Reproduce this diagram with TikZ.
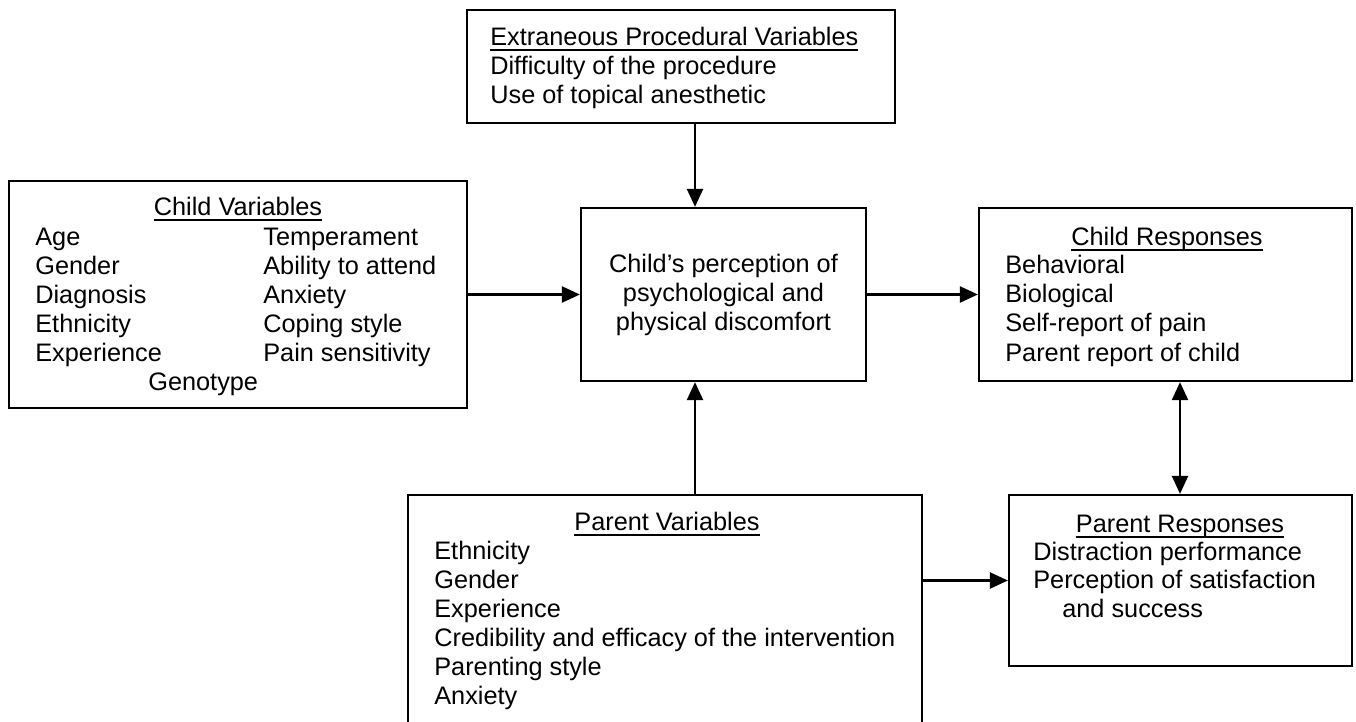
\documentclass[tikz,border=0pt]{standalone}
\usepackage{fontspec}
\setmainfont{Liberation Sans}
\usetikzlibrary{arrows.meta}
\newcommand{\hdr}[1]{\setbox0\hbox{#1}\rlap{\rule[-0.11cm]{\wd0}{0.8pt}}\box0}

\begin{document}
\begin{tikzpicture}[x=0.02cm, y=-0.02cm,
  font=\fontsize{14.4}{16.5}\selectfont,
  box/.style={draw, line width=1.3pt, inner sep=0pt},
  item/.style={anchor=base west, inner sep=0pt},
  hd/.style={anchor=base, inner sep=0pt},
  arr/.style={-{Triangle[length=0.36cm, width=0.32cm]}, line width=1.3pt},
  dbl/.style={{Triangle[length=0.36cm, width=0.32cm]}-{Triangle[length=0.36cm, width=0.32cm]}, line width=1.3pt}]
\useasboundingbox (0,0) rectangle (1356,721);
\clip (0,0) rectangle (1356,721);

% boxes
\node[box, minimum width=8.56cm, minimum height=2.26cm] (ext) at (681,66.5) {};
\node[box, minimum width=9.16cm, minimum height=4.54cm] (cvar) at (238,294.5) {};
\node[box, minimum width=5.70cm, minimum height=3.46cm, align=center] (mid) at (723.5,294.5)
  {Child’s perception of\\psychological and\\physical discomfort};
\node[box, minimum width=7.46cm, minimum height=3.46cm] (cres) at (1165.5,294.5) {};
\node[box, minimum width=10.28cm, minimum height=5.10cm] (pvar) at (665,622.5) {};
\node[box, minimum width=6.86cm, minimum height=3.42cm] (pres) at (1180.5,580.5) {};

% extraneous procedural variables
\node[item] (ext-h) at (490,45) {\hdr{Extraneous Procedural Variables}};
\node[item] (ext-1) at (490,74) {Difficulty of the procedure};
\node[item] (ext-2) at (490,103) {Use of topical anesthetic};

% child variables
\node[hd] (cv-h) at (238,215) {\hdr{Child Variables}};
\foreach \t [count=\i] in {Age,Gender,Diagnosis,Ethnicity,Experience}
  \node[item] (cvl\i) at (35,216+29*\i) {\t};
\foreach \t [count=\i] in {Temperament,Ability to attend,Anxiety,Coping style,Pain sensitivity}
  \node[item] (cvr\i) at (263,216+29*\i) {\t};
\node[item] (cv-g) at (148,390) {Genotype};

% child responses
\node[hd] (cr-h) at (1167,245) {\hdr{Child Responses}};
\foreach \t [count=\i] in {Behavioral,Biological,Self-report of pain,Parent report of child}
  \node[item] (cr\i) at (1005,244+29.3*\i) {\t};

% parent variables
\node[hd] (pv-h) at (667,530) {\hdr{Parent Variables}};
\foreach \t [count=\i] in {Ethnicity,Gender,Experience,Credibility and efficacy of the intervention,Parenting style,Anxiety}
  \node[item] (pv\i) at (434,530+29*\i) {\t};

% parent responses
\node[hd] (pr-h) at (1180,532) {\hdr{Parent Responses}};
\node[item] (pr1) at (1033,560) {Distraction performance};
\node[item] (pr2) at (1033,588) {Perception of satisfaction};
\node[item] (pr3) at (1062,617) {and success};

% arrows
\coordinate (xa) at (695,0);
\coordinate (xb) at (1180,0);
\draw[arr] (ext.south -| xa) -- (mid.north -| xa);
\draw[arr] (cvar.east) -- (mid.west);
\draw[arr] (mid.east) -- (cres.west);
\draw[arr] (pvar.north -| xa) -- (mid.south -| xa);
\draw[dbl] (cres.south -| xb) -- (pres.north -| xb);
\draw[arr] (pvar.east |- pres.west) -- (pres.west);
\end{tikzpicture}
\end{document}
